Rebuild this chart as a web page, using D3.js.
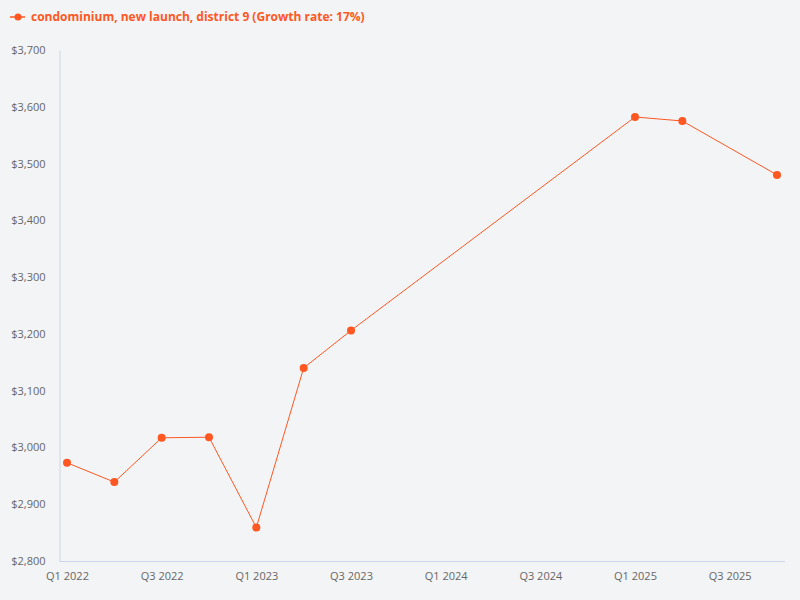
<!DOCTYPE html>
<html>
<head>
<meta charset="utf-8">
<script src="https://cdn.jsdelivr.net/npm/d3@7"></script>
<style>
  html, body { margin: 0; padding: 0; background: #f3f4f6; }
  svg { display: block; font-family: "Open Sans", sans-serif; }
</style>
</head>
<body>
<div id="chart"></div>
<script>
// Data
const quarters = ['Q1 2022', 'Q2 2022', 'Q3 2022', 'Q4 2022',
                  'Q1 2023', 'Q2 2023', 'Q3 2023', 'Q4 2023',
                  'Q1 2024', 'Q2 2024', 'Q3 2024', 'Q4 2024',
                  'Q1 2025', 'Q2 2025', 'Q3 2025', 'Q4 2025'];
const prices = [2973, 2939, 3017, 3018,
                2859, 3140, 3206, null,
                null, null, null, null,
                3582, 3575, null, 3480];
const yTicks = [2800, 2900, 3000, 3100, 3200, 3300, 3400, 3500, 3600, 3700];
const seriesName = 'condominium, new launch, district 9 (Growth rate: 17%)';

const width = 800, height = 600;
const color = '#ff5722';
const margin = { top: 50, right: 15, bottom: 39, left: 60 };

const svg = d3.select('#chart')
    .append('svg')
    .attr('width', width)
    .attr('height', height);

svg.append('rect')
    .attr('width', width)
    .attr('height', height)
    .attr('fill', '#f3f4f6');

// Scales
const x = d3.scalePoint()
    .domain(quarters)
    .range([margin.left + 7, width - margin.right - 8]);

const y = d3.scaleLinear()
    .domain([2800, 3700])
    .range([height - margin.bottom, margin.top]);

// Y axis
const yAxis = svg.append('g')
    .attr('transform', `translate(${margin.left - 0.5},0)`)
    .call(d3.axisLeft(y)
        .tickValues(yTicks)
        .tickSize(0)
        .tickPadding(14)
        .tickFormat(d => '$' + d3.format(',')(d)));
yAxis.select('.domain').attr('stroke', '#ccd6e0');
yAxis.selectAll('text')
    .attr('fill', '#666')
    .attr('font-size', 11)
    .attr('font-family', '"Open Sans", sans-serif');

// X axis
const xAxis = svg.append('g')
    .attr('transform', `translate(0,${height - margin.bottom + 0.5})`)
    .call(d3.axisBottom(x)
        .tickValues(quarters.filter((q, i) => i % 2 === 0))
        .tickSize(0)
        .tickPadding(11));
xAxis.select('.domain')
    .attr('stroke', '#ccd6eb')
    .attr('d', `M${margin.left},0H${width - margin.right}`);
xAxis.selectAll('text')
    .attr('fill', '#666')
    .attr('font-size', 11)
    .attr('font-family', '"Open Sans", sans-serif');

// Line (gaps connected)
const points = quarters
    .map((q, i) => ({ q, v: prices[i] }))
    .filter(d => d.v !== null);

const line = d3.line()
    .x(d => x(d.q))
    .y(d => y(d.v));

svg.append('path')
    .datum(points)
    .attr('fill', 'none')
    .attr('stroke', color)
    .attr('stroke-width', 1)
    .attr('d', line);

svg.append('g')
    .selectAll('circle')
    .data(points)
    .enter()
    .append('circle')
    .attr('cx', d => x(d.q))
    .attr('cy', d => y(d.v))
    .attr('r', 4)
    .attr('fill', color);

// Legend
const legend = svg.append('g').attr('transform', 'translate(10,17)');
legend.append('line')
    .attr('x1', 0).attr('x2', 15)
    .attr('stroke', color)
    .attr('stroke-width', 1.5);
legend.append('circle')
    .attr('cx', 8).attr('r', 3.5)
    .attr('fill', color);
legend.append('text')
    .attr('x', 21)
    .attr('dy', '0.35em')
    .attr('fill', color)
    .attr('font-size', 12)
    .attr('font-weight', 'bold')
    .text(seriesName);
</script>
</body>
</html>
